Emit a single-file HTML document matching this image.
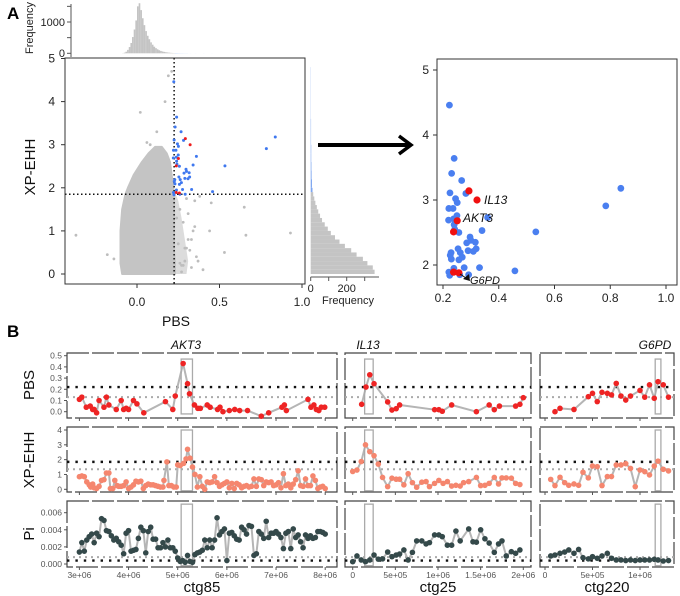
<!DOCTYPE html>
<html><head><meta charset="utf-8">
<style>
html,body{margin:0;padding:0;background:#fff;}
svg{display:block;font-family:"Liberation Sans",Arial,sans-serif;}
</style></head>
<body>
<svg id="fig" width="680" height="596" viewBox="0 0 680 596" xmlns="http://www.w3.org/2000/svg">
  <text x="7" y="19" font-size="17" font-weight="bold">A</text>
  <text x="7" y="337" font-size="17" font-weight="bold">B</text>
  <g id="gA"></g>
  <g id="gB"></g>
</svg>
<script>
// ---------- Panel A data ----------
const pbsHistBins = [-0.10,-0.09,-0.08,-0.07,-0.06,-0.05,-0.04,-0.03,-0.02,-0.01,0.00,0.01,0.02,0.03,0.04,0.05,0.06,0.07,0.08,0.09,0.10,0.11,0.12,0.13,0.14,0.15,0.16,0.17,0.18,0.19,0.20,0.21,0.22,0.23,0.24,0.25,0.26,0.27,0.28,0.29,0.30,0.32,0.35,0.40,0.45];
const pbsHistCounts = [0,5,20,50,110,200,330,520,760,1050,1500,1600,1380,1120,900,710,560,450,350,275,210,165,128,98,76,58,45,35,27,20,15,11,8,6,5,4,3,3,2,2,2,1,1,1,1];
const xpHistBins = [0.0,0.1,0.2,0.3,0.4,0.5,0.6,0.7,0.8,0.9,1.0,1.1,1.2,1.3,1.4,1.5,1.6,1.7,1.8,1.9,2.0,2.2,2.4,2.6,2.8,3.0,3.2,3.4,3.6,3.8,4.0,4.2,4.4,4.6];
const xpHistCounts = [355,345,315,290,255,225,190,160,135,112,95,78,63,52,42,34,26,20,14,10,7,5,4,3,3,2,2,2,1,1,1,1,1,1];
const cloudY = [0.0,0.25,0.5,1.0,1.5,1.85,2.0,2.3,2.6,2.8,2.95];
const cloudLeft = [-0.09,-0.10,-0.10,-0.10,-0.09,-0.07,-0.055,-0.02,0.03,0.07,0.11];
const cloudRight = [0.23,0.23,0.225,0.225,0.225,0.225,0.22,0.21,0.2,0.18,0.15];
const sprinkleY = [0.0,0.3,0.8,1.3,1.7,1.85];
const sprinkleRight = [0.30,0.31,0.29,0.27,0.25,0.235];
const grayPbs = [-0.37,-0.18,-0.14,0.27,0.30,0.33,0.36,0.40,0.44,0.53,0.66,0.65,0.93,0.28,0.31,0.26,0.29,0.34,0.25,0.24,0.27,0.32,0.35,0.38,0.30,0.26,0.45,0.17,0.02,0.12,0.08,0.21,0.19,0.06,0.33,0.37,0.31,0.29,0.35,0.28];
const grayXp = [0.9,0.45,0.35,0.2,0.6,0.15,0.4,0.1,1.0,0.5,0.9,1.55,0.95,1.2,0.8,1.5,0.3,1.0,0.7,1.3,0.05,0.55,1.7,1.8,1.75,0.25,1.65,4.0,3.75,3.3,3.0,4.7,4.6,3.05,0.8,0.3,1.4,0.6,1.1,0.2];
const bluePbs = [0.223,0.24,0.231,0.267,0.225,0.245,0.251,0.282,0.221,0.236,0.238,0.25,0.22,0.24,0.242,0.257,0.36,0.34,0.297,0.3,0.285,0.316,0.254,0.319,0.262,0.29,0.309,0.229,0.226,0.23,0.269,0.257,0.276,0.239,0.331,0.221,0.224,0.26,0.292,0.458,0.533,0.784,0.838];
const blueXp = [4.46,3.64,3.41,3.3,3.11,3.02,2.96,3.1,2.87,2.87,2.71,2.76,2.69,2.62,2.55,2.5,2.73,2.53,2.43,2.38,2.34,2.35,2.25,2.25,2.19,2.22,2.21,2.19,2.15,2.09,2.12,2.08,1.96,1.95,1.96,1.89,1.84,1.85,1.85,1.91,2.51,2.91,3.18];
const redPbs = [0.293,0.322,0.251,0.238,0.238,0.257];
const redXp = [3.14,3.0,2.68,2.51,1.89,1.88];
const pbsThreshold = 0.225;
const xpThreshold = 1.85;

// ---------- Panel B data ----------
const c1PbsX = [3.0,3.05,3.14,3.22,3.27,3.3,3.35,3.4,3.5,3.55,3.6,3.75,3.85,3.9,3.95,4.0,4.1,4.17,4.31,4.75,4.9,4.95,5.11,5.2,5.24,5.34,5.41,5.46,5.6,5.66,5.81,5.86,5.92,6.05,6.16,6.26,6.42,6.7,6.85,7.12,7.17,7.21,7.65,7.71,7.77,7.82,7.87,7.92,7.99];
const c1PbsV = [0.11,0.13,0.04,0.05,0.02,0.02,-0.01,0.10,0.04,0.13,0.06,0.02,0.10,0.02,0.03,0.02,0.10,0.07,-0.01,0.09,0.02,0.14,0.43,0.25,0.16,0.06,0.03,0.03,0.06,0.04,0.02,0.04,0.0,0.01,0.02,0.01,0.01,-0.04,-0.01,0.04,0.06,0.01,0.11,0.04,0.06,0.02,0.01,0.04,0.04];
const c1XpX = [3.0,3.05,3.1,3.15,3.2,3.23,3.27,3.3,3.35,3.4,3.45,3.5,3.55,3.6,3.63,3.68,3.72,3.77,3.8,3.85,3.9,3.95,4.0,4.05,4.1,4.15,4.2,4.25,4.3,4.35,4.4,4.45,4.5,4.55,4.6,4.65,4.7,4.72,4.78,4.82,4.87,4.92,4.97,5.0,5.05,5.12,5.17,5.2,5.25,5.3,5.35,5.4,5.45,5.5,5.55,5.6,5.65,5.7,5.75,5.8,5.85,5.9,5.95,6.0,6.05,6.1,6.15,6.2,6.25,6.3,6.35,6.4,6.45,6.5,6.55,6.6,6.65,6.7,6.75,6.8,6.85,6.9,6.95,7.0,7.05,7.1,7.15,7.2,7.25,7.3,7.35,7.4,7.45,7.5,7.55,7.6,7.65,7.7,7.75,7.8,7.85,7.9,7.95,8.0];
const c1XpV = [0.85,0.9,0.85,0.5,0.3,0.15,0.35,0.1,0.05,0.2,0.6,0.65,1.1,1.1,0.05,0.05,0.6,0.25,0.2,0.2,0.25,0.5,0.05,0.15,0.3,0.55,0.5,0.55,0.05,0.25,0.35,0.3,0.3,0.25,0.2,0.15,0.15,0.6,1.85,0.25,0.25,0.15,0.15,1.65,1.6,1.75,2.05,2.7,2.1,1.5,1.0,0.15,0.85,0.2,0.0,0.5,0.45,0.5,0.85,0.45,0.2,0.3,0.4,0.5,0.1,0.4,0.05,0.4,0.3,0.1,0.2,0.25,0.15,0.2,0.7,0.2,0.7,0.65,0.25,0.5,0.45,0.5,0.25,0.3,0.45,0.1,1.05,0.25,0.35,0.1,0.35,0.65,1.25,0.25,0.2,0.7,0.25,0.25,0.9,0.6,0.05,0.15,0.2,0.05];
const c1PiX = [3.0,3.05,3.1,3.15,3.2,3.25,3.3,3.35,3.4,3.45,3.5,3.55,3.6,3.65,3.7,3.75,3.8,3.85,3.9,3.95,4.0,4.05,4.1,4.15,4.2,4.25,4.3,4.35,4.4,4.45,4.5,4.55,4.6,4.65,4.7,4.75,4.8,4.85,4.9,4.95,5.0,5.05,5.1,5.15,5.2,5.25,5.3,5.35,5.4,5.45,5.5,5.55,5.6,5.65,5.7,5.75,5.8,5.85,5.9,5.95,6.0,6.05,6.1,6.15,6.2,6.25,6.3,6.35,6.4,6.45,6.5,6.55,6.6,6.65,6.7,6.75,6.8,6.85,6.9,6.95,7.0,7.05,7.1,7.15,7.2,7.25,7.3,7.35,7.4,7.45,7.5,7.55,7.6,7.65,7.7,7.75,7.8,7.85,7.9,7.95,8.0];
const c1PiV = [1.4,2.5,1.5,2.8,3.2,3.5,2.5,3.6,3.2,5.3,5.1,3.9,3.8,3.3,2.8,3.0,2.6,2.2,1.2,3.6,3.9,1.5,1.6,1.7,3.0,4.3,3.9,1.3,3.8,4.3,2.9,2.9,1.9,1.9,2.5,2.0,2.8,1.9,1.9,1.5,0.7,0.3,0.4,0.2,1.0,0.3,0.2,1.1,1.3,1.4,1.6,2.8,1.9,2.8,1.9,2.8,5.4,3.4,3.8,4.1,0.4,3.6,3.7,3.3,2.9,2.8,4.3,4.0,3.5,4.5,4.4,1.0,1.2,3.8,3.5,3.0,5.0,3.1,3.6,3.6,3.8,3.5,3.1,1.8,3.6,3.8,1.8,4.1,3.1,3.4,2.6,1.9,3.4,3.0,3.3,3.0,3.1,3.8,3.8,3.7,3.5];
const c2PbsX = [0.105,0.156,0.2,0.25,0.41,0.46,0.51,0.55,0.96,1.01,1.05,1.16,1.45,1.6,1.66,1.72,1.91,1.96,2.0];
const c2PbsV = [0.066,0.22,0.33,0.25,0.087,0.015,0.027,0.06,0.018,0.018,0.004,0.06,0.0,0.06,0.018,0.05,0.05,0.066,0.125];
const c2XpX = [0,0.05,0.1,0.15,0.2,0.25,0.3,0.35,0.41,0.46,0.51,0.55,0.6,0.65,0.7,0.75,0.81,0.86,0.9,0.96,1.01,1.06,1.11,1.16,1.21,1.26,1.3,1.36,1.45,1.5,1.55,1.6,1.66,1.71,1.75,1.8,1.86,1.91,1.96];
const c2XpV = [1.2,1.3,1.87,3.0,2.54,2.27,1.7,0.8,0.18,0.75,0.68,0.68,0.3,1.05,0.45,0.14,0.48,0.52,0.18,0.4,0.6,0.4,0.52,0.22,0.27,0.22,0.45,0.52,0.8,0.25,0.27,0.4,0.8,0.36,0.77,0.77,0.75,0.4,0.32];
const c2PiX = [0,0.05,0.1,0.15,0.2,0.25,0.3,0.35,0.41,0.46,0.51,0.55,0.6,0.65,0.7,0.75,0.81,0.86,0.9,0.96,1.01,1.05,1.11,1.16,1.21,1.26,1.36,1.41,1.45,1.5,1.55,1.6,1.66,1.71,1.75,1.8,1.86,1.91,1.96];
const c2PiV = [0.27,0.94,0.47,0.27,0.47,1.05,0.57,0.6,1.4,0.86,1.05,1.17,1.64,0.47,1.36,2.7,2.7,2.35,2.5,3.4,3.4,3.2,2.2,2.2,3.85,2.7,4.1,2.6,2.55,4.0,2.95,2.45,1.36,2.35,2.7,0.94,1.44,1.25,1.64];
const c3PbsX = [0.105,0.158,0.305,0.456,0.5,0.55,0.6,0.656,0.7,0.75,0.8,0.85,0.9,1.0,1.05,1.1,1.15,1.19,1.245,1.3];
const c3PbsV = [0.0,0.03,0.02,0.134,0.164,0.09,0.173,0.164,0.15,0.253,0.14,0.104,0.14,0.19,0.13,0.24,0.12,0.268,0.24,0.13];
const c3XpX = [0.06,0.105,0.158,0.207,0.25,0.305,0.354,0.4,0.456,0.5,0.55,0.6,0.656,0.7,0.75,0.8,0.85,0.9,0.95,1.0,1.05,1.1,1.15,1.19,1.245,1.3];
const c3XpV = [0.67,0.25,0.81,0.45,0.27,0.36,0.27,1.15,0.77,1.57,1.53,0.25,0.86,0.86,1.64,1.64,1.73,1.41,0.18,1.3,1.19,0.97,1.57,1.9,1.35,1.24];
const c3PiX = [0.06,0.105,0.158,0.207,0.25,0.305,0.354,0.4,0.456,0.5,0.55,0.6,0.656,0.7,0.75,0.8,0.85,0.9,0.95,1.0,1.05,1.1,1.15,1.19,1.245,1.3];
const c3PiV = [0.94,1.05,1.25,1.4,1.64,1.25,1.7,0.74,0.6,0.86,0.67,0.94,1.25,0.67,0.47,0.47,0.4,0.47,0.4,0.47,0.47,0.47,0.55,0.47,0.35,0.4];
const geneNames = ["AKT3","IL13","G6PD"];
const geneStart = [5.07,0.14,1.16];
const geneEnd = [5.3,0.24,1.22];
const contigNames = ["ctg85","ctg25","ctg220"];
const c1Ticks = [3,4,5,6,7,8];
const c1TickLabels = ["3e+06","4e+06","5e+06","6e+06","7e+06","8e+06"];
const c2Ticks = [0,0.5,1,1.5,2];
const c2TickLabels = ["0","5e+05","1e+06","1.5e+06","2e+06"];
const c3Ticks = [0,0.5,1];
const c3TickLabels = ["0","5e+05","1e+06"];
const pbsTicks = [0,0.1,0.2,0.3,0.4,0.5];
const pbsTickLabels = ["0.0","0.1","0.2","0.3","0.4","0.5"];
const xpTicks = [0,1,2,3,4];
const piTicks = [0,2,4,6];
const piTickLabels = ["0.000","0.002","0.004","0.006"];
const bPbsThr = [0.22,0.13];
const bXpThr = [1.85,1.35];
const bPiThr = [0.4,0.8];

// ---------- helpers ----------
const NS = "http://www.w3.org/2000/svg";
function mk(parent, tag, attrs, text){
  const e = document.createElementNS(NS, tag);
  for (const k in attrs) e.setAttribute(k, attrs[k]);
  if (text !== undefined) e.textContent = text;
  parent.appendChild(e);
  return e;
}
function lin(d0,d1,r0,r1){ return v => r0 + (v-d0)*(r1-r0)/(d1-d0); }

// ---------- Panel A ----------
const gA = document.getElementById('gA');
const ax = lin(0,1,137,302);
const ay = lin(0,5,274,58.5);
const hy = lin(0,1000,53.3,22);
const topHist = mk(gA,'g',{});


pbsHistBins.forEach((b,i)=>{
  const x0 = ax(b), x1 = ax(b+0.01);
  const r = mk(topHist,'rect',{x:x0,y:hy(pbsHistCounts[i]),width:Math.max(0.6,x1-x0),height:hy(0)-hy(pbsHistCounts[i]),fill: b>=pbsThreshold ? '#7ea6f0' : '#c4c4c4'});
  
  
});
mk(gA,'line',{x1:71,y1:4,x2:71,y2:57,stroke:'#555','stroke-width':1});
[0,500,1000,1500].forEach(t=>mk(gA,'line',{x1:67,x2:71,y1:hy(t),y2:hy(t),stroke:'#555'}));
mk(gA,'text',{x:65,y:26,'font-size':11,'text-anchor':'end',fill:'#222'},'1000');
mk(gA,'text',{x:65,y:57,'font-size':11,'text-anchor':'end',fill:'#222'},'0');
mk(gA,'text',{x:0,y:0,'font-size':11,'text-anchor':'middle',fill:'#222',transform:'translate(33,28) rotate(-90)'},'Frequency');

const sc = mk(gA,'g',{});


let sp = [];
for (let i=0;i<sprinkleY.length;i++) sp.push(ax(pbsThreshold)+','+ay(sprinkleY[i]));
for (let i=sprinkleY.length-1;i>=0;i--) sp.push(ax(sprinkleRight[i])+','+ay(sprinkleY[i]));
const spr = mk(sc,'polygon',{points:sp.join(' '),fill:'#dcdcdc',stroke:'none'});


let pts = [];
for (let i=0;i<cloudY.length;i++) pts.push(ax(cloudLeft[i])+','+ay(cloudY[i]));
for (let i=cloudY.length-1;i>=0;i--) pts.push(ax(cloudRight[i])+','+ay(cloudY[i]));
const cloud = mk(sc,'polygon',{points:pts.join(' '),fill:'#c4c4c4',stroke:'#c4c4c4','stroke-width':2,'stroke-linejoin':'round'});


grayPbs.forEach((v,i)=>{
  const c = mk(sc,'circle',{cx:ax(v),cy:ay(grayXp[i]),r:1.4,fill:'#bdbdbd'});
  
  
});
mk(sc,'line',{x1:ax(pbsThreshold),x2:ax(pbsThreshold),y1:58,y2:284,stroke:'#111','stroke-width':1.5,'stroke-dasharray':'1.5,2.5'});
mk(sc,'line',{x1:65,x2:305,y1:ay(xpThreshold),y2:ay(xpThreshold),stroke:'#111','stroke-width':1.5,'stroke-dasharray':'1.5,2.5'});
bluePbs.forEach((v,i)=>{
  const c = mk(sc,'circle',{cx:ax(v),cy:ay(blueXp[i]),r:1.5,fill:'#3f78ef'});
  
  
});
redPbs.forEach((v,i)=>{
  const c = mk(sc,'circle',{cx:ax(v),cy:ay(redXp[i]),r:1.5,fill:'#ee1c1c'});
  
  
});
mk(gA,'rect',{x:65,y:58,width:240,height:226,fill:'none',stroke:'#333','stroke-width':1});
[0,1,2,3,4,5].forEach(t=>{
  mk(gA,'line',{x1:61,x2:65,y1:ay(t),y2:ay(t),stroke:'#333'});
  mk(gA,'text',{x:55,y:ay(t)+4,'font-size':12,'text-anchor':'end',fill:'#222'},String(t));
});
[0,0.5,1].forEach((t,i)=>{
  mk(gA,'line',{x1:ax(t),x2:ax(t),y1:284,y2:288,stroke:'#333'});
  mk(gA,'text',{x:ax(t),y:306,'font-size':12,'text-anchor':'middle',fill:'#222'},['0.0','0.5','1.0'][i]);
});
mk(gA,'text',{x:0,y:0,'font-size':15,'text-anchor':'middle',fill:'#111',transform:'translate(35,167) rotate(-90)'},'XP-EHH');
mk(gA,'text',{x:176,y:326,'font-size':14,'text-anchor':'middle',fill:'#111'},'PBS');

const hx = lin(0,200,310.7,346.7);
const rh = mk(gA,'g',{});


xpHistBins.forEach((b,i)=>{
  const w = (i<xpHistBins.length-1? xpHistBins[i+1]-b : 0.2);
  const yTop = ay(b+w), yBot = ay(b);
  const r = mk(rh,'rect',{x:hx(0),y:yTop,width:hx(xpHistCounts[i])-hx(0),height:yBot-yTop,fill: b>=xpThreshold ? '#7ea6f0' : '#c4c4c4'});
  
  
});
mk(gA,'line',{x1:310.7,x2:379,y1:277,y2:277,stroke:'#555'});
[0,100,200,300].forEach(t=>mk(gA,'line',{x1:hx(t),x2:hx(t),y1:277,y2:281,stroke:'#555'}));
mk(gA,'text',{x:hx(0),y:292,'font-size':11,'text-anchor':'middle',fill:'#222'},'0');
mk(gA,'text',{x:hx(200),y:292,'font-size':11,'text-anchor':'middle',fill:'#222'},'200');
mk(gA,'text',{x:348,y:304,'font-size':11,'text-anchor':'middle',fill:'#222'},'Frequency');

const arrow = mk(gA,'g',{});


mk(arrow,'line',{x1:318,y1:145,x2:410,y2:145,stroke:'#000','stroke-width':4});
mk(arrow,'polyline',{points:'399,136 411,145 399,154',fill:'none',stroke:'#000','stroke-width':3.5});

const zx = lin(0.2,1.0,443,666);
const zy = lin(2,5,265,70);
const zs = mk(gA,'g',{});


mk(zs,'rect',{x:437,y:59,width:240,height:226,fill:'none',stroke:'#333','stroke-width':1});
[2,3,4,5].forEach(t=>{
  mk(zs,'line',{x1:433,x2:437,y1:zy(t),y2:zy(t),stroke:'#333'});
  mk(zs,'text',{x:429,y:zy(t)+4,'font-size':12,'text-anchor':'end',fill:'#222'},String(t));
});
[0.2,0.4,0.6,0.8,1.0].forEach(t=>{
  mk(zs,'line',{x1:zx(t),x2:zx(t),y1:285,y2:289,stroke:'#333'});
  mk(zs,'text',{x:zx(t),y:302,'font-size':12,'text-anchor':'middle',fill:'#222'},t.toFixed(1));
});
bluePbs.forEach((v,i)=>{
  const c = mk(zs,'circle',{cx:zx(v),cy:zy(blueXp[i]),r:3.4,fill:'#4a7ff0'});
  
  
});
redPbs.forEach((v,i)=>{
  const c = mk(zs,'circle',{cx:zx(v),cy:zy(redXp[i]),r:3.6,fill:'#f01010'});
  
  
});
mk(zs,'text',{x:484,y:204,'font-size':12,'font-style':'italic',fill:'#111'},'IL13');
mk(zs,'text',{x:463,y:222,'font-size':12,'font-style':'italic',fill:'#111'},'AKT3');
mk(zs,'line',{x1:460,y1:274,x2:466,y2:278,stroke:'#111','stroke-width':1});
mk(zs,'polygon',{points:'463,279 469,274 470,281',fill:'#111'});
mk(zs,'text',{x:470,y:284,'font-size':11,'font-style':'italic',fill:'#111'},'G6PD');

// ---------- Panel B ----------
const gB = document.getElementById('gB');
const cols = [
  {x0:67,x1:337,sx:lin(3,8,79.4,325.2),ticks:c1Ticks,labels:c1TickLabels},
  {x0:345,x1:531,sx:lin(0,2,352.7,523.3),ticks:c2Ticks,labels:c2TickLabels},
  {x0:540,x1:674,sx:lin(0,1,545,640),ticks:c3Ticks,labels:c3TickLabels}
];
const rows = [
  {y0:353,y1:418,sy:lin(0,0.5,411.7,355.7),color:'#ee2424',name:'PBS',thr:bPbsThr,ticks:pbsTicks,tl:pbsTickLabels,boxTop:0.47,boxBot:-0.02},
  {y0:427,y1:492,sy:lin(0,4,489.3,430),color:'#f5866e',name:'XP-EHH',thr:bXpThr,ticks:xpTicks,tl:['0','1','2','3','4'],boxTop:4.0,boxBot:-0.1},
  {y0:501,y1:567,sy:lin(0,6,564,512.7),color:'#34494a',name:'Pi',thr:bPiThr,ticks:piTicks,tl:piTickLabels,boxTop:7.0,boxBot:-0.2}
];
const seriesX = [[c1PbsX,c1XpX,c1PiX],[c2PbsX,c2XpX,c2PiX],[c3PbsX,c3XpX,c3PiX]];
const seriesV = [[c1PbsV,c1XpV,c1PiV],[c2PbsV,c2XpV,c2PiV],[c3PbsV,c3XpV,c3PiV]];
const rowLabelY = [385,460,534];

rows.forEach((row,ri)=>{
  mk(gB,'text',{x:0,y:0,'font-size':15,'text-anchor':'middle',fill:'#111',transform:`translate(34,${rowLabelY[ri]}) rotate(-90)`},row.name);
  row.ticks.forEach((t,ti)=>{
    mk(gB,'text',{x:62,y:row.sy(t)+3,'font-size':8.5,'text-anchor':'end',fill:'#555'},row.tl[ti]);
    mk(gB,'line',{x1:64,x2:67,y1:row.sy(t),y2:row.sy(t),stroke:'#555'});
  });
  cols.forEach((col,ci)=>{
    const p = mk(gB,'g',{});
    
    
    mk(p,'rect',{x:col.x0,y:row.y0,width:col.x1-col.x0,height:row.y1-row.y0,fill:'none',stroke:'#444','stroke-width':1.2,'stroke-dasharray':'22,3'});
    mk(p,'line',{x1:col.x0,x2:col.x1,y1:row.sy(row.thr[1]),y2:row.sy(row.thr[1]),stroke:'#aaa','stroke-width':2,'stroke-dasharray':'2,4'});
    mk(p,'line',{x1:col.x0,x2:col.x1,y1:row.sy(row.thr[0]),y2:row.sy(row.thr[0]),stroke:'#111','stroke-width':2.4,'stroke-dasharray':'2.4,6'});
    const xs = seriesX[ci][ri], vs = seriesV[ci][ri];
    const line = mk(p,'polyline',{points:xs.map((x,i)=>col.sx(x)+','+row.sy(vs[i])).join(' '),fill:'none',stroke:'#b5b5b5','stroke-width':2});
    
    
    const gx0 = col.sx(geneStart[ci]), gx1 = col.sx(geneEnd[ci]);
    const gb = mk(p,'rect',{x:gx0,y:row.sy(row.boxTop),width:gx1-gx0,height:row.sy(row.boxBot)-row.sy(row.boxTop),fill:'none',stroke:'#aaa','stroke-width':1.3});
    
    
    xs.forEach((x,i)=>{
      const c = mk(p,'circle',{cx:col.sx(x),cy:row.sy(vs[i]),r:2.8,fill:row.color});
      
      
    });
    col.ticks.forEach((t,ti)=>{
      mk(p,'line',{x1:col.sx(t),x2:col.sx(t),y1:row.y1,y2:row.y1+3,stroke:'#555'});
      if (ri===2) mk(gB,'text',{x:col.sx(t),y:578,'font-size':8.5,'text-anchor':'middle',fill:'#555'},col.labels[ti]);
    });
  });
});
const geneLabelX = [186,368,655];
cols.forEach((col,ci)=>{
  mk(gB,'text',{x:geneLabelX[ci],y:349,'font-size':12,'font-style':'italic','text-anchor':'middle',fill:'#111'},geneNames[ci]);
  mk(gB,'text',{x:(col.x0+col.x1)/2,y:592,'font-size':15,'text-anchor':'middle',fill:'#111'},contigNames[ci]);
});
</script>
</body></html>
